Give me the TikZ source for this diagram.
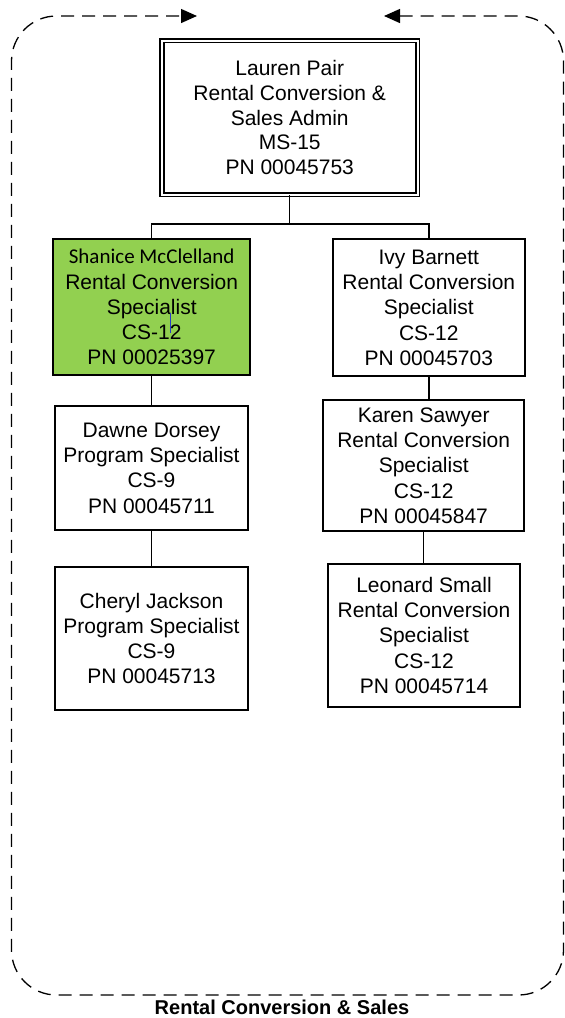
\documentclass[tikz,border=0pt]{standalone}
\usepackage{fontspec}
\setmainfont{Liberation Sans}
\newfontfamily\calibfont{Carlito}
\usetikzlibrary{arrows.meta}

\definecolor{staffgreen}{RGB}{146,208,80}
\definecolor{markblue}{RGB}{40,60,200}

\tikzset{
  card/.style={draw, line width=2pt, align=center, inner sep=0pt,
               font=\fontsize{21}{25.3}\selectfont},
  headcard/.style={draw, double, double distance=2pt, line width=1.6pt,
               align=center, inner sep=0pt,
               font=\fontsize{21}{24.7}\selectfont},
  conn/.style={line width=1.4pt},
  frame/.style={line width=1.3pt, dash pattern=on 13pt off 8pt,
                rounded corners=45pt},
  frametip/.style={Triangle[length=16pt,width=14pt]},
}

\begin{document}
\begin{tikzpicture}[x=1pt, y=-1pt]
  \useasboundingbox (0,0) rectangle (565,1018);

  % unit boundary
  \draw[frame, {Triangle[length=16pt,width=14pt]}-{Triangle[length=16pt,width=14pt]}]
    (384,16) -- (563.5,16) -- (563.5,995) -- (11.5,995) -- (11.5,16) -- (197,16);
  \node[font=\bfseries\fontsize{20}{24}\selectfont, anchor=base] (unit) at (282,1014)
    {Rental Conversion \& Sales};

  % manager
  \node[headcard, minimum width=255.5pt, minimum height=154pt] (admin) at (289.75,117.5)
    {Lauren Pair\\Rental Conversion \&\\Sales Admin\\MS-15\\PN 00045753};

  % left column
  \node[card, fill=staffgreen, minimum width=197.3pt, minimum height=135.7pt] (shanice) at (151.7,307.2)
    {{\calibfont Shanice McClelland}\\Rental Conversion\\Specialist\\CS-12\\PN 00025397};
  \node[card, minimum width=192.5pt, minimum height=124.5pt] (dawne) at (151.5,468)
    {Dawne Dorsey\\Program Specialist\\CS-9\\PN 00045711};
  \node[card, minimum width=192.5pt, minimum height=143.5pt] (cheryl) at (151.5,638.5)
    {Cheryl Jackson\\Program Specialist\\CS-9\\PN 00045713};

  % right column
  \node[card, minimum width=192.3pt, minimum height=137pt] (ivy) at (428.8,307.8)
    {Ivy Barnett\\Rental Conversion\\Specialist\\CS-12\\PN 00045703};
  \node[card, minimum width=201.3pt, minimum height=130.7pt] (karen) at (423.7,465.7)
    {Karen Sawyer\\Rental Conversion\\Specialist\\CS-12\\PN 00045847};
  \node[card, minimum width=192.6pt, minimum height=143.3pt] (leonard) at (424,635.3)
    {Leonard Small\\Rental Conversion\\Specialist\\CS-12\\PN 00045714};

  % text cursor mark in the highlighted card
  \draw[markblue, line width=1pt] (170,313) -- (170,333);

  % reporting lines
  \coordinate (bus) at (0,224);
  \draw[conn] (admin.south) -- (admin.south |- bus);
  \draw[conn] (shanice.north) |- (bus -| ivy.north) -- (ivy.north);
  \draw[conn] (shanice.south) -- (shanice.south |- dawne.north);
  \draw[conn] (dawne.south) -- (dawne.south |- cheryl.north);
  \draw[conn] (ivy.south) -- (ivy.south |- karen.north);
  \draw[conn] (karen.south) -- (karen.south |- leonard.north);
\end{tikzpicture}
\end{document}
